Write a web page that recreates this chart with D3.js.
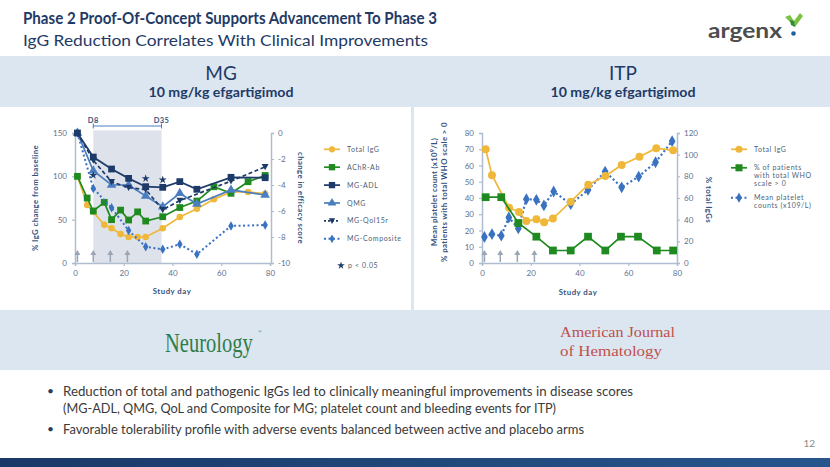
<!DOCTYPE html>
<html><head><meta charset="utf-8">
<script src="https://cdn.jsdelivr.net/npm/d3@7"></script>
<style>body{margin:0;background:#fff}svg{display:block;font-family:Lato,'Open Sans',sans-serif}</style>
</head><body><svg id="c" width="830" height="467"></svg>
<script>
// ---------- DATA ----------
const mgDaysA = [1,5,7.5,12,15,18.7,22,25.7,29,36,43,50,57,64,71,78];
const mgTotalIgG = [100,67,59,44,40,33.5,30,30,30,40,53,62.5,73.5,82,82,80];
const mgAChR = [100,75,60,70,50,61,49.6,59,48.4,53.4,64,71.5,88,80.4,93.8,101];
const mgDaysB = [1,7.5,15,22,29,36,43,50,64,78];
const mgADL = [0,-1.85,-2.77,-3.49,-4.13,-4.18,-3.74,-4.33,-3.41,-3.44];
const mgQMG = [0,-2.9,-4.0,-4.0,-4.85,-5.67,-4.64,-5.46,-4.38,-4.77];
const mgQolDays = [1,7.5,15,22,29,36,43,64,78];
const mgQol = [0,-2.1,-3.75,-4.2,-4.35,-5.9,-5.2,-3.7,-2.6];
const mgComposite = [0,-4.26,-5.75,-7.5,-8.75,-8.95,-8.56,-9.33,-7.15,-7.08];
const mgStarDays = [7.5,29,36];
const mgStarScores = [-3.25,-3.5,-3.6];
const doseDays = [1,7.5,14.5,21.5];
const mgLegend = ["Total IgG","AChR-Ab","MG-ADL","QMG","MG-Qol15r","MG-Composite"];
const mgLeftTicks = [0,50,100,150];
const mgRightTicks = [0,-2,-4,-6,-8,-10];
const dayTicks = [0,20,40,60,80];

const itpIgGDays = [1.5,4.1,11.1,15.2,18.2,22.3,25.5,29.1,36.4,43.6,50.6,57.3,64.6,71.5,78.4];
const itpIgG = [105,81,51,47,38.8,40.3,37.6,41,56.6,72.3,80.3,90.5,98,106,104];
const itpWhoDays = [1.5,7.9,14.9,22.3,29.1,36.4,43.5,50.6,57,64,71.7,78.4];
const itpWho = [40.5,40.5,24.6,16.2,7.7,7.7,16.2,7.7,16.2,16.2,7.7,7.7];
const itpPltDays = [1,4.1,7.9,11,14.9,18.2,22.3,25.4,29.4,36.4,43.5,50.5,57.3,64.3,71.2,78];
const itpPlt = [16,17.8,16.8,28,21.3,39.3,38.9,35.4,44,36.2,45,56.3,46.6,53.2,62,75];
const itpLeftTicks = [0,10,20,30,40,50,60,70,80];
const itpRightTicks = [0,20,40,60,80,100,120];
const itpLegend = [["Total IgG"],["% of patients","with total WHO","scale > 0"],["Mean platelet","counts (x109/L)"]];

// ---------- STYLE ----------
const C = {navy:"#1f3a66", band:"#dce6f1", axis:"#aebdd0", tick:"#5d7290", title:"#34527d",
  yellow:"#f0b83a", green:"#1f8a1f", dark:"#1d3b68", qmg:"#4a7ec0", comp:"#3a72c2", shade:"#dee2ea", arrow:"#9aa6b6"};
const svg = d3.select("#c");

// background bands
svg.append("rect").attr("x",0).attr("y",56).attr("width",830).attr("height",314).attr("fill",C.band);
svg.append("rect").attr("x",0).attr("y",107).attr("width",411).attr("height",203).attr("fill","#fff");
svg.append("rect").attr("x",414).attr("y",107).attr("width",416).attr("height",203).attr("fill","#fff");

// titles
svg.append("text").attr("x",23).attr("y",24).attr("font-size",17).attr("font-weight",700).attr("fill",C.navy)
  .attr("textLength",414).attr("lengthAdjust","spacingAndGlyphs").text("Phase 2 Proof-Of-Concept Supports Advancement To Phase 3");
svg.append("text").attr("x",23).attr("y",46).attr("font-size",16).attr("fill",C.navy)
  .attr("textLength",405).attr("lengthAdjust","spacingAndGlyphs").text("IgG Reduction Correlates With Clinical Improvements");

// logo
svg.append("text").attr("x",708).attr("y",38).attr("font-size",21).attr("font-weight",700).attr("fill","#4d4d4d")
  .attr("textLength",74).attr("lengthAdjust","spacingAndGlyphs").text("argenx");
svg.append("path").attr("d","M785,17 L790,15 L794,21 L800,13 L803,16 L795,27 Z").attr("fill","#7cc242");
svg.append("path").attr("d","M790,20 L794,21 L795,27 L791,25 Z").attr("fill","#2e8b3e");
svg.append("circle").attr("cx",793.5).attr("cy",33.5).attr("r",2.3).attr("fill","#1f5fa8");

// panel headers
[[221,"MG"],[623,"ITP"]].forEach(([cx,t])=>{
  svg.append("text").attr("x",cx).attr("y",80).attr("text-anchor","middle").attr("font-size",19).attr("fill",C.navy).text(t);
  svg.append("text").attr("x",cx).attr("y",97).attr("text-anchor","middle").attr("font-size",14).attr("font-weight",700).attr("fill",C.navy)
    .attr("textLength",145).attr("lengthAdjust","spacingAndGlyphs").text("10 mg/kg efgartigimod");
});

// ---------- helpers ----------
function styleAxis(g){
  g.select(".domain").attr("stroke",C.axis).attr("stroke-width",1.5);
  g.selectAll(".tick line").attr("stroke",C.axis).attr("stroke-width",1.2);
  g.selectAll(".tick text").attr("fill",C.tick).attr("font-size",8).attr("font-family","Lato,sans-serif");
}
function series(g, xs, ys, x, y, color, sym, size, dash, width){
  const pts = xs.map((d,i)=>[x(d), y(ys[i])]);
  g.append("path").attr("d",d3.line()(pts)).attr("fill","none").attr("stroke",color)
    .attr("stroke-width",width||1.7).attr("stroke-dasharray",dash||null);
  g.selectAll(null).data(pts).enter().append("path")
    .attr("transform",d=>`translate(${d[0]},${d[1]})`)
    .attr("d",d3.symbol().type(sym).size(size)).attr("fill",color);
}
function legendItem(g, lx, ly, color, sym, size, dash, width){
  g.append("line").attr("x1",lx-8).attr("x2",lx+8).attr("y1",ly).attr("y2",ly).attr("stroke",color)
    .attr("stroke-width",width||1.7).attr("stroke-dasharray",dash||null);
  g.append("path").attr("transform",`translate(${lx},${ly})`).attr("d",d3.symbol().type(sym).size(size)).attr("fill",color);
}
function vtext(x, y, rot, t){
  svg.append("text").attr("transform",`translate(${x},${y}) rotate(${rot})`).attr("text-anchor","middle")
    .attr("font-size",7.8).attr("font-weight",700).attr("fill",C.title).attr("letter-spacing",0.4).text(t);
}
const triDown = {draw(ctx,size){const s=Math.sqrt(size*1.2);ctx.moveTo(-s/2,-s*0.4);ctx.lineTo(s/2,-s*0.4);ctx.lineTo(0,s*0.5);ctx.closePath();}};

// ---------- MG chart ----------
const x1 = d3.scaleLinear([0,80],[75,270]);
const yL1 = d3.scaleLinear([0,150],[263,133]);
const yR1 = d3.scaleLinear([-10,0],[263,133]);
const g1 = svg.append("g");
g1.append("rect").attr("x",x1(7.5)).attr("y",yL1(153)).attr("width",x1(35.5)-x1(7.5)).attr("height",yL1(0)-yL1(153)).attr("fill",C.shade);
// bracket
g1.append("line").attr("x1",x1(7.5)).attr("x2",x1(35.5)).attr("y1",126).attr("y2",126).attr("stroke",C.qmg).attr("stroke-width",1);
[7.5,35.5].forEach(d=>g1.append("line").attr("x1",x1(d)).attr("x2",x1(d)).attr("y1",123.5).attr("y2",128.5).attr("stroke",C.qmg).attr("stroke-width",1));
[[7.5,"D8"],[35.5,"D35"]].forEach(([d,t])=>g1.append("text").attr("x",x1(d)).attr("y",122.5).attr("text-anchor","middle")
  .attr("font-size",7.5).attr("font-weight",700).attr("fill",C.title).attr("letter-spacing",0.4).text(t));

g1.append("g").attr("transform","translate(75,0)").call(d3.axisLeft(yL1).tickValues(mgLeftTicks).tickSize(3).tickPadding(5)).call(styleAxis);
g1.append("g").attr("transform","translate(271,0)").call(d3.axisRight(yR1).tickValues(mgRightTicks).tickFormat(d=>String(d)).tickSize(3).tickPadding(4)).call(styleAxis);
g1.append("g").attr("transform","translate(0,263)").call(d3.axisBottom(x1).tickValues(dayTicks).tickSize(3).tickPadding(4)).call(styleAxis);

// dosing arrows
function arrows(g, x){
  doseDays.forEach(d=>{
    g.append("line").attr("x1",x(d)).attr("x2",x(d)).attr("y1",262).attr("y2",254).attr("stroke",C.arrow).attr("stroke-width",1.5);
    g.append("path").attr("d",`M${x(d)-3},${255} L${x(d)},${250} L${x(d)+3},${255} Z`).attr("fill",C.arrow);
  });
}
arrows(g1, x1);

series(g1, mgDaysA, mgTotalIgG, x1, yL1, C.yellow, d3.symbolCircle, 34);
series(g1, mgDaysA, mgAChR, x1, yL1, C.green, d3.symbolSquare, 46);
series(g1, mgDaysB, mgComposite, x1, yR1, C.comp, d3.symbolDiamond, 26, "2,2.5", 2);
series(g1, mgDaysB, mgQMG, x1, yR1, C.qmg, d3.symbolTriangle, 40);
series(g1, mgQolDays, mgQol, x1, yR1, C.dark, triDown, 40, "4,2.5");
series(g1, mgDaysB, mgADL, x1, yR1, C.dark, d3.symbolSquare, 46);
mgStarDays.forEach((d,i)=>g1.append("path").attr("transform",`translate(${x1(d)},${yR1(mgStarScores[i])})`)
  .attr("d",d3.symbol().type(d3.symbolStar).size(20)).attr("fill",C.dark));

vtext(38,198,-90,"% IgG change from baseline");
vtext(298,198,90,"change in efficacy score");
svg.append("text").attr("x",172).attr("y",294).attr("text-anchor","middle").attr("font-size",7.8).attr("font-weight",700)
  .attr("fill",C.title).attr("letter-spacing",0.5).text("Study day");

// MG legend
const mgLegStyles = [[C.yellow,d3.symbolCircle,30],[C.green,d3.symbolSquare,40],[C.dark,d3.symbolSquare,40],
  [C.qmg,d3.symbolTriangle,34],[C.dark,triDown,34,"2,2"],[C.comp,d3.symbolDiamond,22,"2,2.5",2]];
mgLegend.forEach((t,i)=>{
  const ly = 149.3 + i*17.9, s = mgLegStyles[i];
  legendItem(g1, 332, ly, s[0], s[1], s[2], s[3], s[4]);
  g1.append("text").attr("x",347).attr("y",ly+2.5).attr("font-size",7).attr("fill","#4e5f78").attr("letter-spacing",0.6).text(t);
});
g1.append("path").attr("transform","translate(341,265.5)").attr("d",d3.symbol().type(d3.symbolStar).size(18)).attr("fill",C.dark);
g1.append("text").attr("x",348).attr("y",268).attr("font-size",7).attr("fill","#4e5f78").attr("letter-spacing",0.6).text("p < 0.05");

// ---------- ITP chart ----------
const x2 = d3.scaleLinear([0,80],[482,677]);
const yL2 = d3.scaleLinear([0,80],[263,133]);
const yR2 = d3.scaleLinear([0,120],[263,133]);
const g2 = svg.append("g");
g2.append("g").attr("transform","translate(482,0)").call(d3.axisLeft(yL2).tickValues(itpLeftTicks).tickSize(3).tickPadding(5)).call(styleAxis);
g2.append("g").attr("transform","translate(677,0)").call(d3.axisRight(yR2).tickValues(itpRightTicks).tickSize(3).tickPadding(4)).call(styleAxis);
g2.append("g").attr("transform","translate(0,263)").call(d3.axisBottom(x2).tickValues(dayTicks).tickSize(3).tickPadding(4)).call(styleAxis);
arrows(g2, x2);

series(g2, itpPltDays, itpPlt, x2, yL2, C.comp, d3.symbolDiamond, 40, "2,2.5", 2.2);
series(g2, itpIgGDays, itpIgG, x2, yR2, C.yellow, d3.symbolCircle, 50);
series(g2, itpWhoDays, itpWho, x2, yL2, C.green, d3.symbolSquare, 60);

svg.append("text").attr("transform","translate(437,192) rotate(-90)").attr("text-anchor","middle").attr("font-size",7.8)
  .attr("font-weight",700).attr("fill",C.title).attr("letter-spacing",0.3)
  .call(t=>{t.append("tspan").text("Mean platelet count (x10");t.append("tspan").attr("font-size",5.5).attr("dy",-3).text("9");t.append("tspan").attr("dy",3).text("/L)");});
vtext(447,192,-90,"% patients with total WHO scale > 0");
vtext(706,200,90,"% total IgGs");
svg.append("text").attr("x",578).attr("y",295).attr("text-anchor","middle").attr("font-size",7.8).attr("font-weight",700)
  .attr("fill",C.title).attr("letter-spacing",0.5).text("Study day");

const itpLegStyles = [[C.yellow,d3.symbolCircle,40],[C.green,d3.symbolSquare,50],[C.comp,d3.symbolDiamond,30,"2,2.5",2]];
const itpLegY = [149.3,167.8,197.7];
itpLegend.forEach((lines,i)=>{
  const s = itpLegStyles[i];
  legendItem(g2, 739, itpLegY[i], s[0], s[1], s[2], s[3], s[4]);
  lines.forEach((t,j)=>g2.append("text").attr("x",754).attr("y",itpLegY[i]+2.5+j*7.6).attr("font-size",7)
    .attr("fill","#4e5f78").attr("letter-spacing",0.6).text(t));
});

// ---------- journals ----------
svg.append("text").attr("transform","translate(165,352) scale(0.76,1)").attr("font-family","'Liberation Serif','DejaVu Serif',serif")
  .attr("font-size",27).attr("fill","#2e7d4a").text("Neurology");
svg.append("text").attr("x",258).attr("y",333).attr("font-family","'Liberation Serif',serif").attr("font-size",5).attr("fill","#2e7d4a").text("®");
svg.append("text").attr("x",560).attr("y",337).attr("font-family","'Liberation Serif',serif").attr("font-size",15.5)
  .attr("fill","#c0504d").attr("textLength",115).attr("lengthAdjust","spacingAndGlyphs").text("American Journal");
svg.append("text").attr("x",560).attr("y",356).attr("font-family","'Liberation Serif',serif").attr("font-size",15.5)
  .attr("fill","#c0504d").attr("textLength",102).attr("lengthAdjust","spacingAndGlyphs").text("of  Hematology");

// ---------- bullets ----------
const bullets = [
  [391,"Reduction of total and pathogenic IgGs led to clinically meaningful improvements in disease scores",570,true],
  [408,"(MG-ADL, QMG, QoL and Composite for MG; platelet count and bleeding events for ITP)",493,false],
  [429,"Favorable tolerability profile with adverse events balanced between active and placebo arms",521,true]];
bullets.forEach(([y,t,w,b])=>{
  if(b) svg.append("text").attr("x",47).attr("y",y+4).attr("font-size",12).attr("fill","#2b3f5c").text("•");
  svg.append("text").attr("x",63).attr("y",y+4.5).attr("font-size",13).attr("fill","#3a3a3a")
    .attr("textLength",w).attr("lengthAdjust","spacingAndGlyphs").text(t);
});
svg.append("text").attr("x",815).attr("y",447).attr("text-anchor","end").attr("font-size",10).attr("fill","#8a8a8a").text("12");

// bottom bar
const grad = svg.append("defs").append("linearGradient").attr("id","bar");
grad.append("stop").attr("offset","0%").attr("stop-color","#1a3867");
grad.append("stop").attr("offset","100%").attr("stop-color","#27568c");
svg.append("rect").attr("x",0).attr("y",458).attr("width",830).attr("height",9).attr("fill","url(#bar)");
</script></body></html>
